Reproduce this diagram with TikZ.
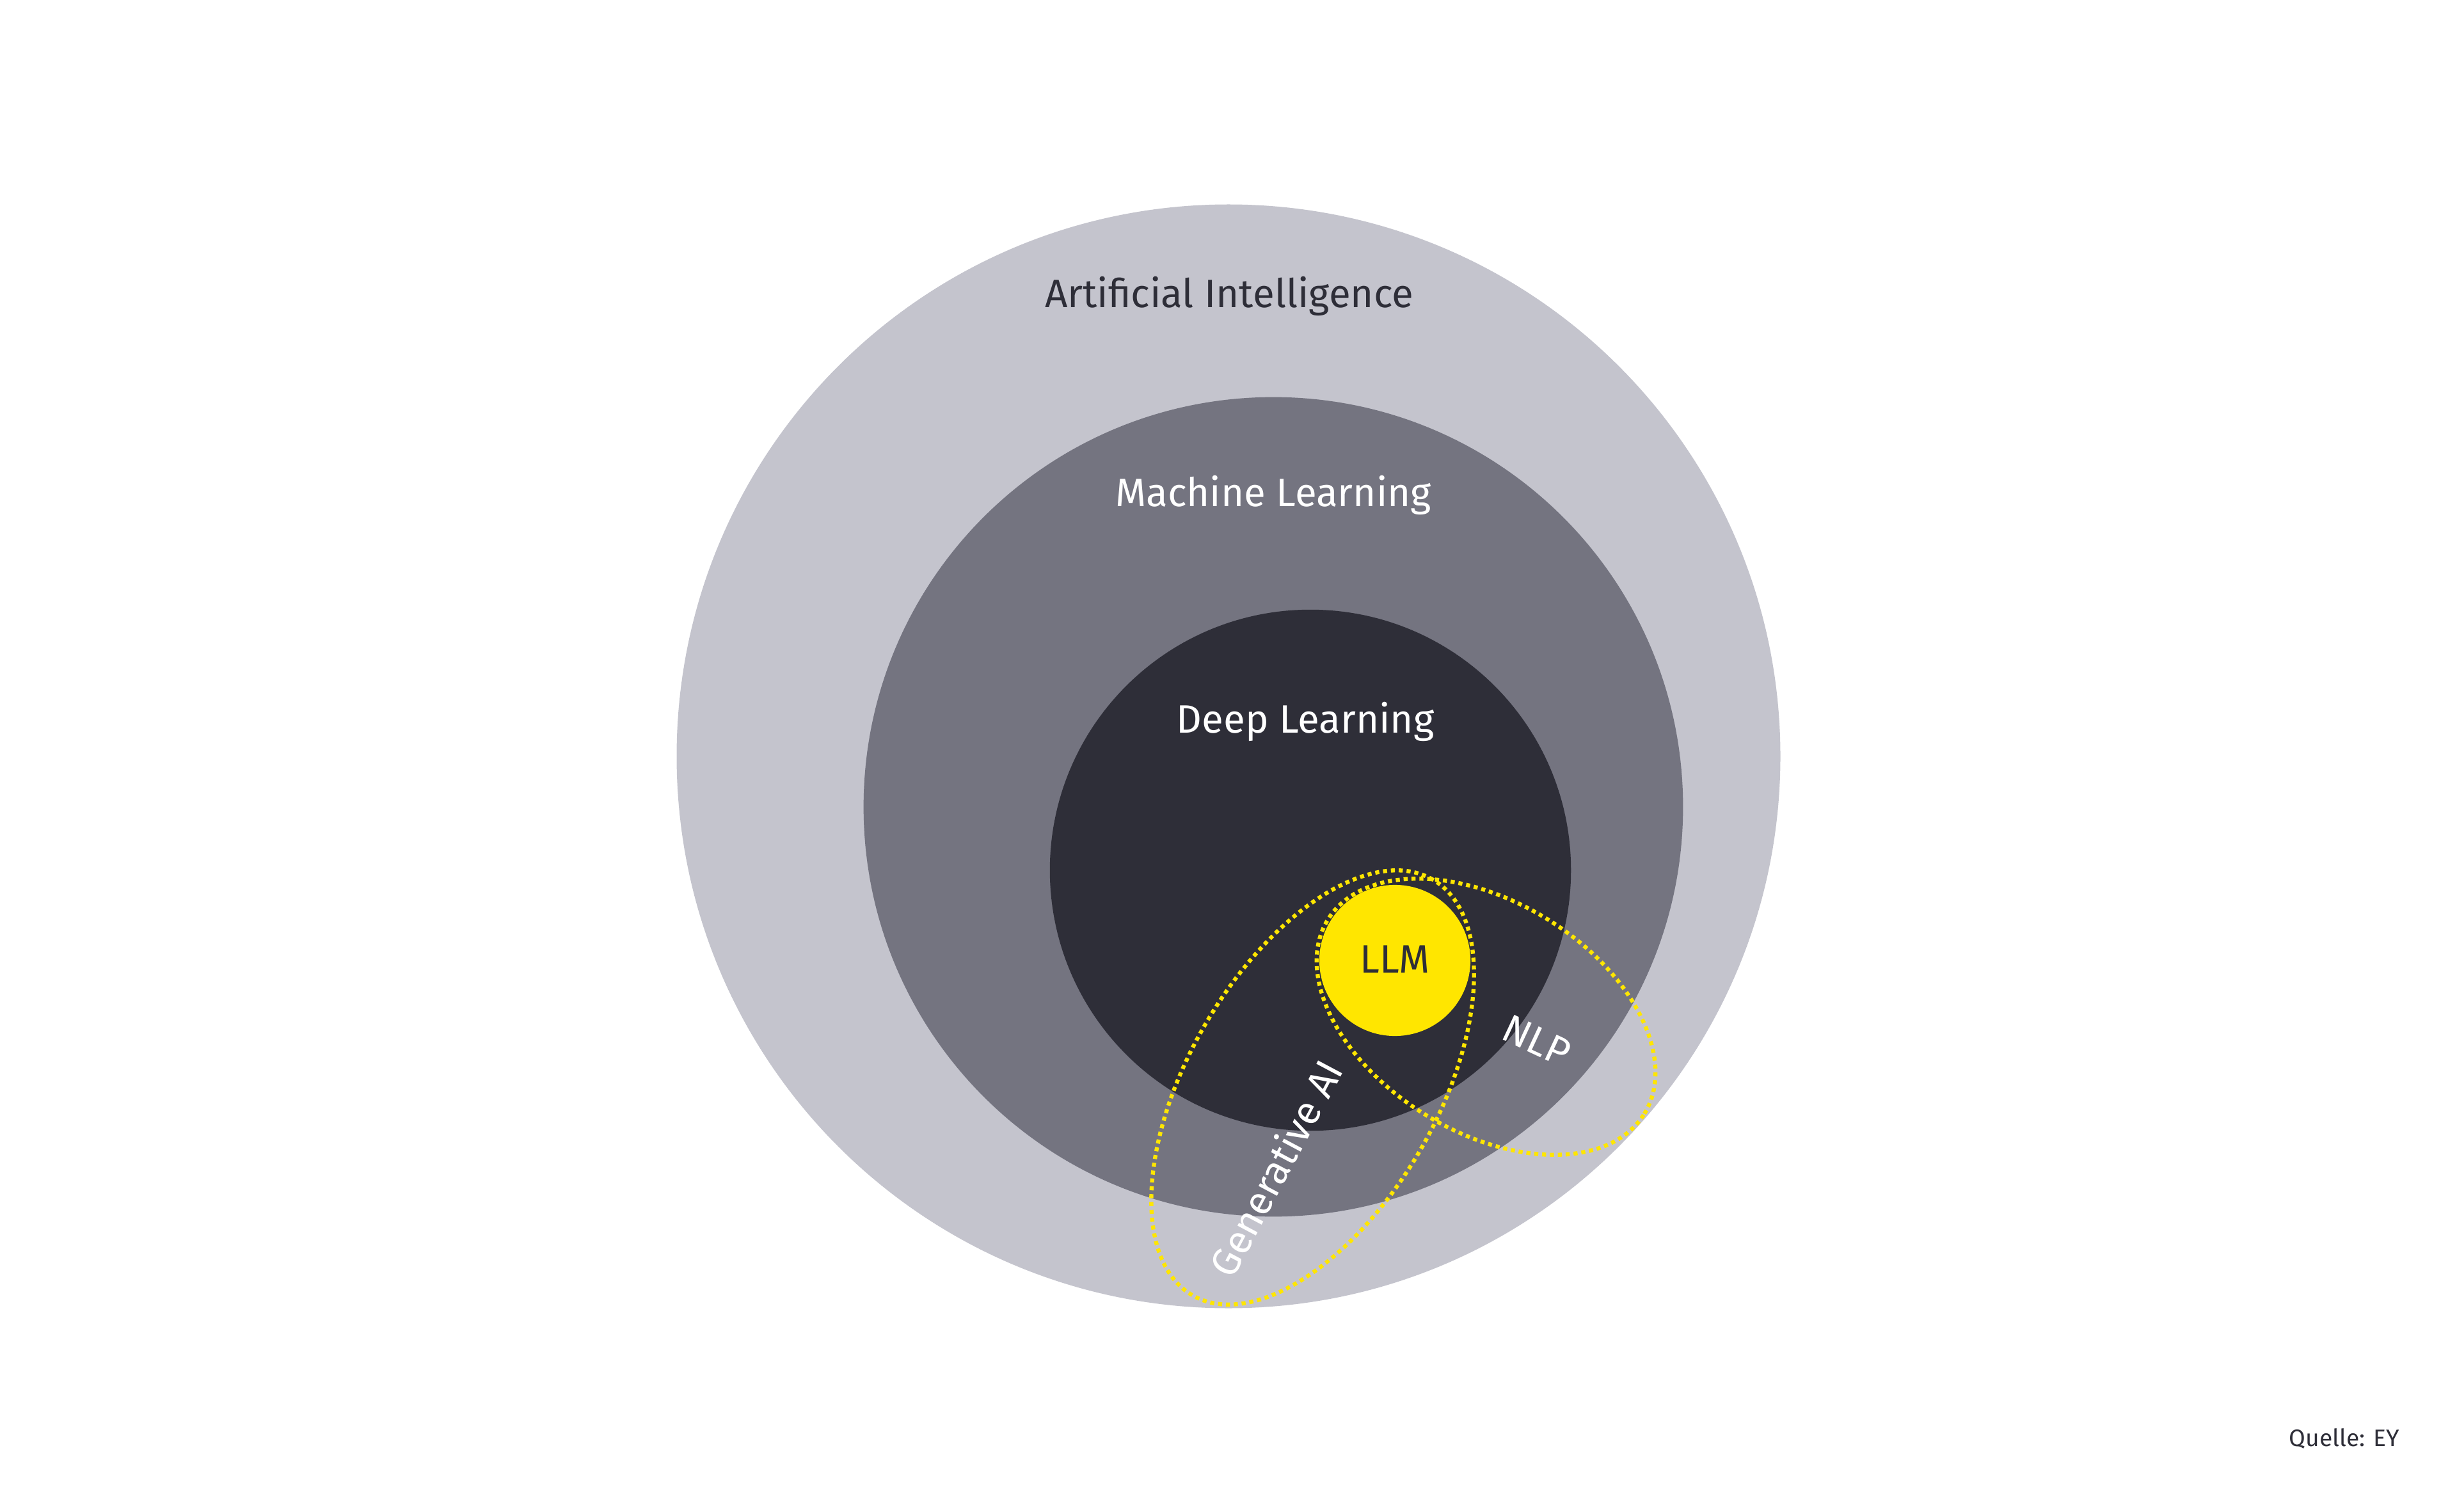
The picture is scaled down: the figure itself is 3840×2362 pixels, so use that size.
\documentclass[tikz,border=0pt]{standalone}
\usepackage{fontspec}
\setmainfont{Fira Sans}
\definecolor{aigray}{HTML}{C4C4CD}
\definecolor{mlgray}{HTML}{747480}
\definecolor{dlgray}{HTML}{2E2E38}
\definecolor{eyyellow}{HTML}{FFE600}
\begin{document}
\begin{tikzpicture}[x=0.01cm,y=0.01cm,
  lbl/.style={inner sep=0pt, font=\fontsize{17.6}{20}\selectfont},
  dotline/.style={draw=eyyellow, line width=1.8pt, dash pattern=on 1.8pt off 1.7pt}]
\fill[white] (0,0) rectangle (3840,2362);
\useasboundingbox (0,0) rectangle (3840,2362);
% nested circles
\fill[aigray] (1920,1180) circle[radius=8.62cm];
\fill[mlgray] (1990,1101) circle[radius=6.40cm];
\fill[dlgray] (2048,1002) circle[radius=4.07cm];
\fill[eyyellow] (2180,861) circle[radius=1.18cm];
% dotted ellipses
\draw[dotline, rotate around={60:(2051.5,662.5)}] (2051.5,662.5) ellipse[x radius=3.75cm, y radius=1.945cm];
\draw[dotline, rotate around={-31.5:(2322.5,773)}] (2322.5,773) ellipse[x radius=2.90cm, y radius=1.80cm];
% labels
\node[lbl, text=dlgray, anchor=base] (ai) at (1921,1881) {Artificial Intelligence};
\node[lbl, text=white, anchor=base] (ml) at (1990,1570) {Machine Learning};
\node[lbl, text=white, anchor=base] (dl) at (2040,1217) {Deep Learning};
\node[lbl, text=dlgray, anchor=base] (llm) at (2180,842) {LLM};
\node[lbl, text=white, rotate=-25] (nlp) at (2402,736) {NLP};
\node[lbl, text=white, rotate=62] (genai) at (1993,537) {Generative AI};
\node[inner sep=0pt, text=dlgray, anchor=base west, font=\fontsize{10.6}{13}\selectfont] (src) at (3577,102) {Quelle: EY};
\end{tikzpicture}
\end{document}
